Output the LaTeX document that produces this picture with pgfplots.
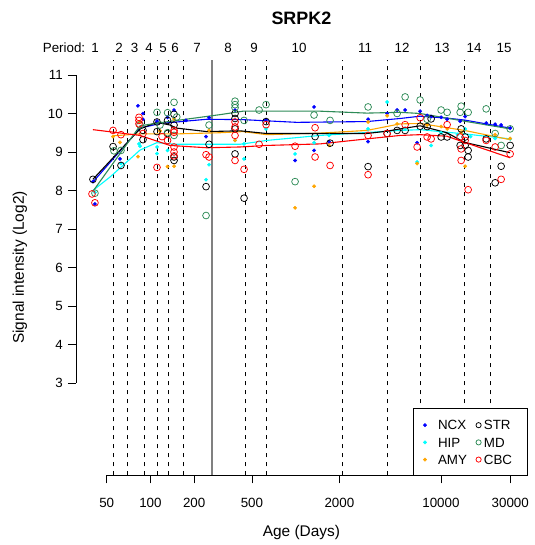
\documentclass[border=0pt]{standalone}
\usepackage{fontspec}
\setmainfont{Liberation Sans}
\usepackage{pgfplots}
\pgfplotsset{compat=1.18}
\definecolor{cNCX}{RGB}{0,0,255}
\definecolor{cHIP}{RGB}{0,255,255}
\definecolor{cAMY}{RGB}{255,165,0}
\definecolor{cSTR}{RGB}{0,0,0}
\definecolor{cMD}{RGB}{46,139,87}
\definecolor{cCBC}{RGB}{255,0,0}
\definecolor{cBirth}{RGB}{128,128,128}
\newcommand{\basefont}{\fontsize{13.4}{16}\selectfont}
\pgfplotsset{
  dotmark/.style={only marks, mark=*, mark size=1.7bp, color=#1, forget plot},
  ringmark/.style={only marks, mark=o, mark size=3.4bp, color=#1,
                   mark options={line width=0.75bp}, forget plot},
  fitline/.style={color=#1, line width=1.1bp, no marks, forget plot},
  period/.style={black, line width=0.9bp, dash pattern=on 4.5bp off 4.5bp, forget plot},
}
\begin{document}
\begin{tikzpicture}[x=1bp,y=1bp]
\path (0,0) rectangle (535,545);
\begin{axis}[
  at={(75.9bp,69.6bp)}, anchor=south west, scale only axis,
  width=451bp, height=415.8bp,
  xmode=log, xmin=30.69, xmax=39090, ymin=0.6, ymax=11.4,
  axis x line=bottom, axis y line=left,
  axis line style={draw=none, -},
  xtick={50,100,200,500,2000,10000,30000},
  xticklabels={50,100,200,500,2000,10000,30000},
  ytick={3,4,5,6,7,8,9,10,11},
  yticklabels={3,4,5,6,7,8,9,10,11},
  xminorticks=false, yminorticks=false,
  tick align=outside, major tick length=8bp,
  tick style={black, line width=0.8bp},
  tick label style={font=\basefont, inner sep=0pt},
  xticklabel style={anchor=north, yshift=-15bp},
  yticklabel style={anchor=east, xshift=-5bp},
  clip=false,
  legend columns=2,
  legend image code/.code={\draw[#1] plot coordinates {(0bp,0bp)};},
  legend style={at={(rel axis cs:0.748,0.1614)}, anchor=north west,
                draw=none, fill=none, inner xsep=9.8bp, inner ysep=11.9bp,
                font=\basefont, row sep=7.6bp,
                nodes={inner sep=0pt, text height=9.6bp, text depth=0pt},
                /tikz/column 1/.style={column sep=11.4bp},
                /tikz/column 2/.style={column sep=9bp},
                /tikz/column 3/.style={column sep=2.7bp}},
  legend cell align=left,
]
% period boundaries
\addplot[period] coordinates {(56,0.6) (56,11.4)};
\addplot[period] coordinates {(70,0.6) (70,11.4)};
\addplot[period] coordinates {(91,0.6) (91,11.4)};
\addplot[period] coordinates {(112,0.6) (112,11.4)};
\addplot[period] coordinates {(133,0.6) (133,11.4)};
\addplot[period] coordinates {(168,0.6) (168,11.4)};
\addplot[cBirth, line width=1.3bp, forget plot] coordinates {(266,0.6) (266,11.4)};
\addplot[period] coordinates {(448,0.6) (448,11.4)};
\addplot[period] coordinates {(631,0.6) (631,11.4)};
\addplot[period] coordinates {(2092,0.6) (2092,11.4)};
\addplot[period] coordinates {(4284,0.6) (4284,11.4)};
\addplot[period] coordinates {(7206,0.6) (7206,11.4)};
\addplot[period] coordinates {(14511,0.6) (14511,11.4)};
\addplot[period] coordinates {(21816,0.6) (21816,11.4)};

% NCX
\addplot[dotmark=cNCX] coordinates {
 (40.2,8.23) (41.5,7.65) (61.7,8.82) (82.1,10.2) (88.9,10.0) (88.9,9.85)
 (111,9.8) (131.2,9.9) (145.4,10.09) (175.8,9.82) (241.5,9.4) (253.3,9.89)
 (382.4,10.09) (625.4,9.84) (990.4,8.78) (1338,10.17) (1338,9.04) (1698,9.27)
 (3151,9.27) (3151,9.85) (4260,10.0) (4994,10.09) (5668,10.09) (6855,9.24)
 (7190,10.06) (8034,9.95) (8561,9.92) (10030,9.9) (11034,9.85) (13562,9.8)
 (14684,9.92) (20484,9.75) (23620,9.72) (25976,9.7) (29970,9.62)};
% HIP
\addplot[dotmark=cHIP] coordinates {
 (41.5,7.95) (62.7,8.7) (83.4,9.21) (84.8,9.15) (111,9.13) (111,8.96)
 (131.2,9.04) (241.5,8.28) (253.3,8.67) (382.4,9.3) (441.2,9.21) (441.2,8.82)
 (625.4,9.6) (990.4,8.95) (1338,9.24) (1698,9.43) (3151,9.6) (4260,10.3)
 (5668,9.6) (6855,8.74) (8561,9.17) (10030,9.5) (13000,9.45) (14684,9.6)
 (16000,9.4) (23620,9.35) (29970,9.34)};
% AMY
\addplot[dotmark=cAMY] coordinates {
 (55.3,9.4) (61.7,9.25) (82.1,8.88) (84.8,9.78) (116.4,9.55) (131.2,8.62)
 (145.4,9.86) (145.4,8.63) (253.3,9.56) (382.4,9.3) (990.4,7.55) (1338,8.11)
 (1698,9.17) (3151,9.78) (4260,9.94) (4994,9.73) (6855,8.7) (8034,9.7)
 (10030,9.66) (11034,9.6) (13777,9.5) (14684,8.63) (23620,9.45) (29970,9.35)};
% STR
\addplot[ringmark=cSTR] coordinates {
 (40.2,8.29) (55.3,9.14) (62.7,8.65) (88.9,9.56) (88.9,9.32) (111,9.78)
 (111,9.53) (131.2,9.82) (131.2,9.48) (145.4,9.98) (145.4,9.7) (145.4,8.87)
 (145.4,8.78) (241.5,8.1) (253.3,9.2) (382.4,10.0) (382.4,9.87) (382.4,9.6)
 (382.4,8.95) (441.2,7.8) (625.4,9.79) (1360,9.4) (1725,9.23) (3151,8.62)
 (4260,9.48) (4994,9.56) (5668,9.56) (7190,9.67) (8034,9.66) (8561,9.86)
 (10030,9.39) (11034,9.39) (13562,9.17) (13777,9.6) (14684,9.39) (14684,9.17)
 (15395,9.04) (15395,8.87) (20484,9.34) (23620,8.2) (25976,8.63) (29970,9.17)};
% MD
\addplot[ringmark=cMD] coordinates {
 (41.5,7.93) (56.1,9.03) (62.7,9.04) (84.8,9.7) (111,10.03) (116.4,9.7)
 (131.2,10.02) (131.2,9.5) (145.4,10.29) (145.4,9.43) (151.8,9.91) (241.5,7.35)
 (253.3,9.7) (382.4,10.32) (382.4,10.23) (382.4,10.15) (441.2,9.82) (559.7,10.09)
 (625.4,10.23) (990.4,8.23) (1338,9.96) (1725,9.82) (3151,10.17) (4994,10.0)
 (5668,10.43) (7190,10.35) (8034,9.85) (10030,10.09) (11034,10.03) (13562,10.03)
 (13777,10.19) (15395,10.03) (20484,10.12) (23620,9.48) (25976,9.17) (29970,9.6)};
% CBC
\addplot[ringmark=cCBC] coordinates {
 (39.6,7.91) (41.5,7.68) (55.3,9.56) (62.7,9.45) (83.4,9.9) (83.4,9.82)
 (83.4,9.73) (88.9,9.48) (111,8.6) (120.2,9.4) (131.2,9.3) (145.4,9.56)
 (145.4,9.51) (145.4,9.13) (145.4,9.0) (145.4,8.9) (241.5,8.93) (253.3,8.87)
 (382.4,9.78) (382.4,9.65) (382.4,9.43) (382.4,8.78) (441.2,8.55) (559.7,9.2)
 (625.4,9.71) (990.4,9.15) (1360,9.63) (1360,8.87) (1725,8.65) (3151,9.43)
 (3151,8.41) (4260,9.48) (5668,9.71) (6855,9.13) (7190,9.89) (8034,9.39)
 (8561,9.34) (11034,9.71) (13562,9.39) (13777,9.08) (13777,8.78) (14684,9.3)
 (15395,8.02) (20484,9.3) (23620,9.13) (25976,8.29) (29970,8.95)};

% smoothed curves
\addplot[fitline=cNCX] coordinates {
 (40.2,8.22) (84.8,9.62) (116.4,9.74) (244,9.85) (434,9.84) (1017,9.77)
 (3088,9.79) (5236,9.87) (7190,9.93) (10990,9.88) (14530,9.83) (29930,9.62)};
\addplot[fitline=cHIP] coordinates {
 (40.2,8.0) (52.7,8.35) (84.8,9.05) (110.5,9.24) (151.8,9.2) (414,9.2)
 (632,9.3) (1472,9.43) (5236,9.56) (7190,9.58) (14530,9.47) (29930,9.34)};
\addplot[fitline=cAMY] coordinates {
 (55.3,9.42) (84.8,9.47) (151.8,9.47) (301.6,9.5) (434,9.53) (632,9.45)
 (1472,9.49) (3088,9.56) (5236,9.73) (7190,9.74) (14530,9.56) (29930,9.32)};
\addplot[fitline=cSTR] coordinates {
 (40.2,8.29) (84.8,9.6) (110.5,9.77) (136.5,9.7) (151.8,9.62) (244,9.53)
 (414,9.55) (632,9.48) (1472,9.48) (3088,9.48) (4240,9.54) (5236,9.6)
 (7190,9.68) (10990,9.5) (14530,9.25) (29930,8.98)};
\addplot[fitline=cMD] coordinates {
 (40.2,7.98) (84.8,9.68) (116.4,9.76) (301.6,9.97) (434,10.06) (1472,10.06)
 (3088,10.01) (5236,10.03) (7190,10.0) (10990,9.88) (14530,9.8) (29930,9.6)};
\addplot[fitline=cCBC] coordinates {
 (40.2,9.58) (84.8,9.43) (136.5,9.17) (244,9.11) (414,9.13) (632,9.17)
 (1472,9.21) (3088,9.34) (5236,9.43) (7190,9.45) (10990,9.41) (14530,9.25)
 (29930,8.85)};

% axis lines, R style
\draw[black, line width=0.8bp] (axis cs:50,0.6) -- (axis cs:30000,0.6);
\draw[black, line width=0.8bp] (axis cs:30.69,3) -- (axis cs:30.69,11);
% legend box
\draw[black, line width=0.8bp, fill=white]
  (rel axis cs:0.748,0) rectangle (rel axis cs:1,0.1614);

\addlegendimage{only marks, mark=*, mark size=1.7bp, cNCX}
\addlegendentry{NCX}
\addlegendimage{only marks, mark=o, mark size=2.6bp, cSTR, mark options={line width=0.75bp}}
\addlegendentry{STR}
\addlegendimage{only marks, mark=*, mark size=1.7bp, cHIP}
\addlegendentry{HIP}
\addlegendimage{only marks, mark=o, mark size=2.6bp, cMD, mark options={line width=0.75bp}}
\addlegendentry{MD}
\addlegendimage{only marks, mark=*, mark size=1.7bp, cAMY}
\addlegendentry{AMY}
\addlegendimage{only marks, mark=o, mark size=2.6bp, cCBC, mark options={line width=0.75bp}}
\addlegendentry{CBC}
\end{axis}
% titles and labels
\node[font=\bfseries\fontsize{18}{20}\selectfont] at (301.4,527) {SRPK2};
\node[font=\fontsize{15.5}{18}\selectfont] at (301.4,12) {Age (Days)};
\node[font=\fontsize{15.5}{18}\selectfont, rotate=90] at (20,277.5) {Signal intensity (Log2)};
% period labels
\begin{scope}[every node/.style={font=\basefont}]
\node at (64,497) {Period:};
\node at (95,497) {1};
\node at (119,497) {2};
\node at (134.5,497) {3};
\node at (149,497) {4};
\node at (163,497) {5};
\node at (175,497) {6};
\node at (197,497) {7};
\node at (228,497) {8};
\node at (254,497) {9};
\node at (299,497) {10};
\node at (365,497) {11};
\node at (402,497) {12};
\node at (442,497) {13};
\node at (474,497) {14};
\node at (504,497) {15};
\end{scope}
\end{tikzpicture}
\end{document}
